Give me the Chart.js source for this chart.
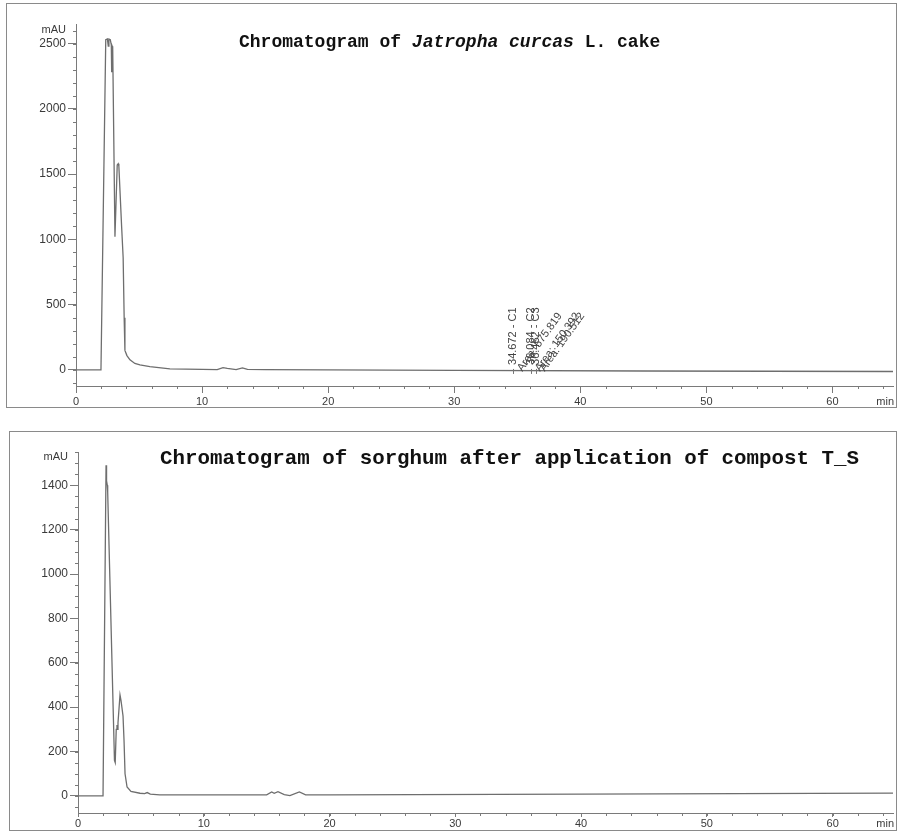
<!DOCTYPE html>
<html>
<head>
<meta charset="utf-8">
<script src="https://cdn.jsdelivr.net/npm/chart.js@4.4.1/dist/chart.umd.min.js"></script>
<style>
  html, body { margin: 0; padding: 0; background: #fff; }
  body { width: 898px; height: 834px; position: relative; overflow: hidden; }
  .frame { position: absolute; border: 1px solid #8a8a8a; box-sizing: border-box; }
  canvas { position: absolute; left: 0; }
</style>
</head>
<body>
<div class="frame" style="left:6px;top:3px;width:891px;height:405px;"></div>
<div class="frame" style="left:9px;top:431px;width:888px;height:400px;"></div>
<canvas id="top" style="top:0px;"></canvas>
<canvas id="bottom" style="top:420px;"></canvas>
<script>
// Retention time (min) and detector signal (mAU) — Jatropha curcas L. cake
const topTime   = [0, 1.98, 2.36, 2.49, 2.56, 2.61, 2.72, 2.80, 2.83, 2.87, 2.91, 3.09, 3.27, 3.35, 3.40, 3.62, 3.74, 3.82, 3.88, 4.04, 4.28, 4.67, 5.07, 5.86, 7.45, 10, 11.2, 11.66, 12.0, 12.7, 13.2, 13.6, 15, 30, 45, 64.8];
const topSignal = [0, 0, 2530, 2535, 2480, 2535, 2530, 2490, 2280, 2480, 2470, 1020, 1570, 1580, 1560, 1095, 860, 400, 150, 110, 77, 50, 38, 25, 8, 4, 3, 18, 12, 2, 16, 4, 2, -4, -8, -12];

// Retention time (min) and detector signal (mAU) — sorghum after compost T_S
const bottomTime   = [0, 1.99, 2.23, 2.27, 2.33, 2.36, 2.90, 2.96, 3.04, 3.10, 3.14, 3.18, 3.34, 3.42, 3.58, 3.66, 3.74, 3.90, 4.21, 4.93, 5.3, 5.5, 5.75, 6.5, 15.0, 15.4, 15.6, 15.9, 16.4, 16.85, 17.6, 18.1, 20, 40, 64.8];
const bottomSignal = [0, 0, 1490, 1420, 1400, 1370, 160, 150, 300, 320, 300, 330, 455, 430, 360, 250, 100, 40, 20, 12, 10, 15, 8, 5, 5, 18, 12, 19, 6, 1, 18, 5, 5, 8, 13];

// Integrated peaks in the Jatropha run
const peakTimes  = [34.672, 36.084, 36.462];
const peakNames  = ['C1', 'C2', 'C3'];
const peakAreas  = [575.819, 150.392, 190.512];

// Axis tick labels
const timeTicks   = [0, 10, 20, 30, 40, 50, 60];
const topTicksY   = [0, 500, 1000, 1500, 2000, 2500];
const bottomTicksY = [0, 200, 400, 600, 800, 1000, 1200, 1400];

const AXIS = '#7a7a7a';
const TEXT = '#3a3a3a';
const TRACE = '#6e6e6e';
const SANS = '"Liberation Sans", Arial, sans-serif';
const MONO = '"Liberation Mono", "Courier New", monospace';

Chart.defaults.font.family = SANS;
Chart.defaults.color = TEXT;

function points(xs, ys) { return xs.map((x, i) => ({ x: x, y: ys[i] })); }

// Minor ticks, unit labels, title and peak annotations
function decor(cfg) {
  return {
    id: 'decor',
    afterDraw(chart) {
      const ctx = chart.ctx;
      const xs = chart.scales.x, ys = chart.scales.y;
      const area = chart.chartArea;
      ctx.save();
      ctx.strokeStyle = AXIS;
      ctx.lineWidth = 1;
      ctx.beginPath();
      for (let v = cfg.yMinorFrom; v <= ys.max; v += cfg.yMinorStep) {
        const p = Math.round(ys.getPixelForValue(v)) + 0.5;
        ctx.moveTo(area.left - 3, p); ctx.lineTo(area.left, p);
      }
      for (let t = 2; t <= xs.max; t += 2) {
        const p = Math.round(xs.getPixelForValue(t)) + 0.5;
        ctx.moveTo(p, area.bottom); ctx.lineTo(p, area.bottom + 3);
      }
      ctx.stroke();

      // unit labels
      ctx.fillStyle = TEXT;
      ctx.font = '11px ' + SANS;
      ctx.textAlign = 'right';
      ctx.textBaseline = 'middle';
      ctx.fillText('mAU', area.left - 10, cfg.mauY);
      ctx.fillText('min', chart.width - 4, cfg.minY);

      // title
      ctx.fillStyle = '#111';
      ctx.textAlign = 'left';
      ctx.textBaseline = 'alphabetic';
      let x = cfg.titleX;
      cfg.title.forEach(part => {
        ctx.font = (part.italic ? 'italic ' : '') + 'bold ' + cfg.titleSize + 'px ' + MONO;
        ctx.fillText(part.text, x, cfg.titleY);
        x += ctx.measureText(part.text).width;
      });

      // peak labels
      if (cfg.peaks) {
        const y0 = ys.getPixelForValue(0);
        ctx.fillStyle = '#444';
        ctx.font = '11px ' + SANS;
        ctx.textAlign = 'left';
        ctx.textBaseline = 'alphabetic';
        cfg.peaks.times.forEach((t, i) => {
          const px = xs.getPixelForValue(t);
          ctx.save();
          ctx.translate(px + 3, y0 - 5);
          ctx.rotate(-Math.PI / 2);
          ctx.fillText(t.toFixed(3) + ' - ' + cfg.peaks.names[i], 0, 0);
          ctx.restore();
          ctx.save();
          ctx.translate(px + 9, y0 + 2);
          ctx.rotate(-0.95);
          ctx.fillText('Area: ' + cfg.peaks.areas[i].toFixed(3), 0, 0);
          ctx.restore();
          ctx.strokeStyle = '#777';
          ctx.beginPath();
          ctx.moveTo(Math.round(px) + 0.5, y0 - 1); ctx.lineTo(Math.round(px) + 0.5, y0 + 4);
          ctx.stroke();
        });
      }
      ctx.restore();
    }
  };
}

function makeChart(id, w, h, xs, ys, yMin, yMax, yTicks, lay, cfg) {
  const el = document.getElementById(id);
  el.width = w; el.height = h;
  el.style.width = w + 'px'; el.style.height = h + 'px';
  return new Chart(el, {
    type: 'line',
    data: {
      datasets: [{
        data: points(xs, ys),
        borderColor: TRACE,
        borderWidth: 1.3,
        pointRadius: 0,
        tension: 0,
        fill: false
      }]
    },
    options: {
      responsive: false,
      animation: false,
      devicePixelRatio: 1,
      layout: { padding: { left: 0, top: lay.top, right: 5, bottom: 0 } },
      plugins: { legend: { display: false }, tooltip: { enabled: false } },
      scales: {
        x: {
          type: 'linear', min: 0, max: 64.8,
          afterBuildTicks: s => { s.ticks = timeTicks.map(v => ({ value: v })); },
          afterFit: s => { s.height = lay.xHeight; },
          ticks: { font: { size: 11 }, color: TEXT, padding: lay.xPad, maxRotation: 0, autoSkip: false,
                   callback: v => String(v) },
          grid: { drawOnChartArea: false, drawTicks: true, tickLength: lay.xTick, color: AXIS },
          border: { color: AXIS, width: 1 }
        },
        y: {
          type: 'linear', min: yMin, max: yMax,
          afterBuildTicks: s => { s.ticks = yTicks.map(v => ({ value: v })); },
          afterFit: s => { s.width = lay.yWidth; },
          ticks: { font: { size: 12 }, color: TEXT, padding: 2, autoSkip: false,
                   callback: v => String(v) },
          grid: { drawOnChartArea: false, drawTicks: true, tickLength: 8, color: AXIS },
          border: { color: AXIS, width: 1 }
        }
      }
    },
    plugins: [decor(cfg)]
  });
}

makeChart('top', 898, 410, topTime, topSignal, -123, 2650, topTicksY,
  { top: 24, xHeight: 24, xPad: 2, xTick: 7, yWidth: 76 },
  {
    yMinorFrom: -100, yMinorStep: 100, mauY: 30, minY: 402,
    titleX: 239, titleY: 47, titleSize: 18,
    title: [{ text: 'Chromatogram of ' }, { text: 'Jatropha curcas', italic: true }, { text: ' L. cake' }],
    peaks: { times: peakTimes, names: peakNames, areas: peakAreas }
  });

makeChart('bottom', 898, 414, bottomTime, bottomSignal, -77, 1550, bottomTicksY,
  { top: 32, xHeight: 21, xPad: 0, xTick: 4, yWidth: 78 },
  {
    yMinorFrom: -50, yMinorStep: 50, mauY: 37, minY: 404,
    titleX: 160, titleY: 44, titleSize: 20.8,
    title: [{ text: 'Chromatogram of sorghum after application of compost T_S' }]
  });
</script>
</body>
</html>
